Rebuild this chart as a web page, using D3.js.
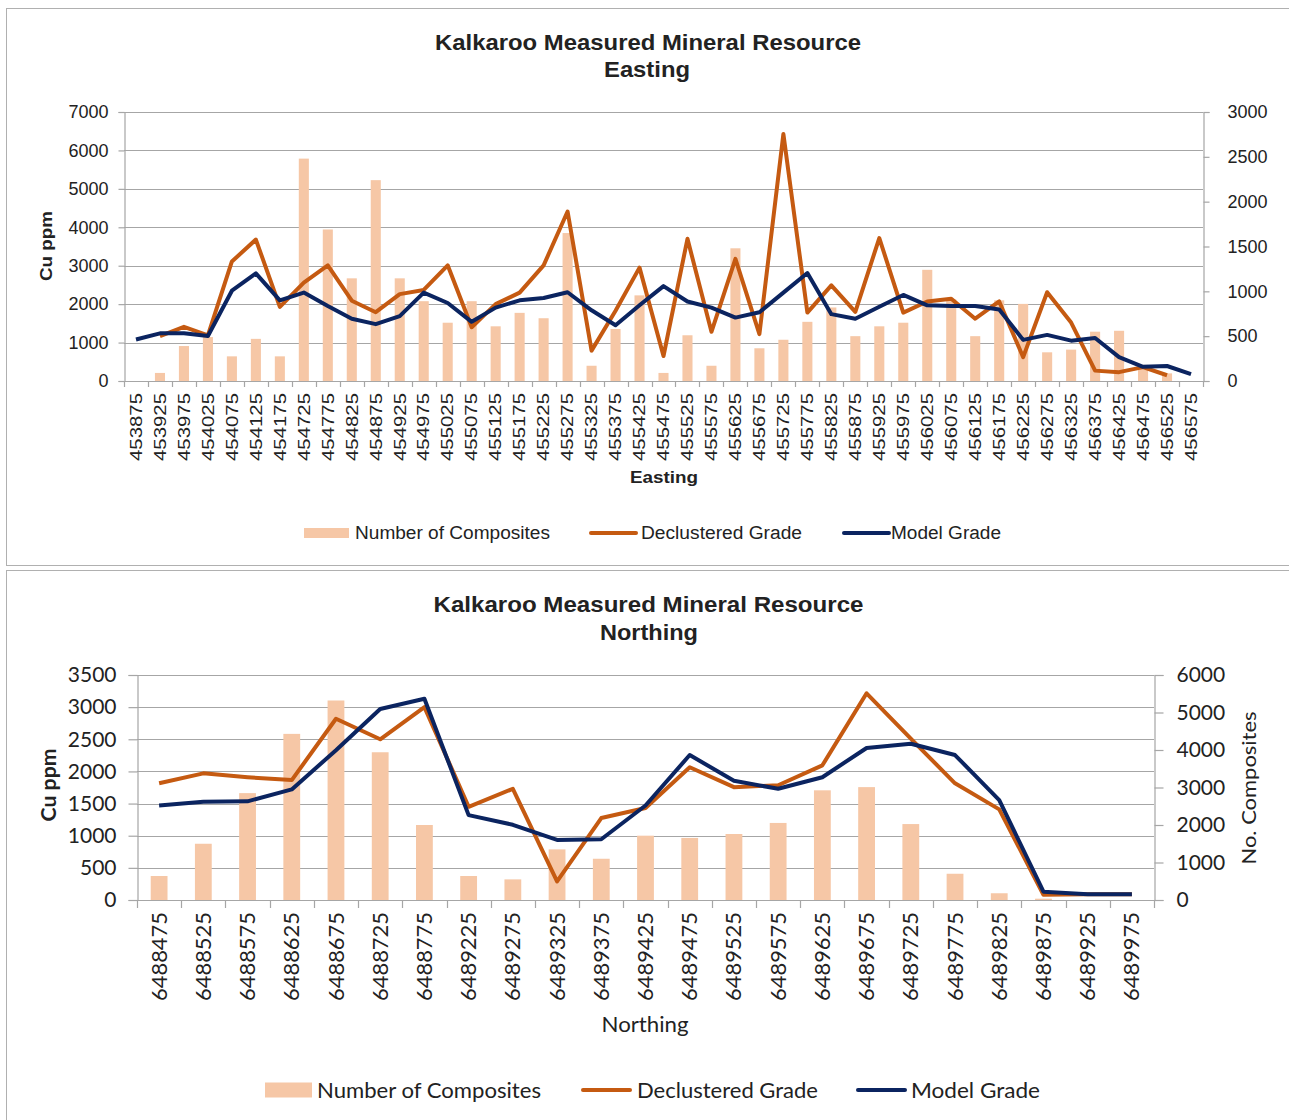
<!DOCTYPE html>
<html>
<head>
<meta charset="utf-8">
<script src="https://cdn.jsdelivr.net/npm/d3@7"></script>
<style>
  html, body { margin: 0; padding: 0; background: #fff; }
  svg { display: block; }
</style>
</head>
<body>
<svg id="chart" width="1289" height="1120"></svg>
<script>
// ---------- Data: Easting chart ----------
const eastingCategories = ["453875","453925","453975","454025","454075","454125","454175","454725","454775","454825","454875","454925","454975","455025","455075","455125","455175","455225","455275","455325","455375","455425","455475","455525","455575","455625","455675","455725","455775","455825","455875","455925","455975","456025","456075","456125","456175","456225","456275","456325","456375","456425","456475","456525","456575"];
const eastingComposites = [0,90,390,490,275,470,275,2480,1690,1145,2240,1145,890,650,890,610,760,700,1650,170,580,955,90,510,170,1480,365,460,660,820,500,610,650,1240,910,500,900,860,320,350,550,560,180,85,0];
const eastingDeclustered = [null,1170,1410,1190,3110,3680,1930,2560,3010,2090,1790,2260,2370,3010,1400,2000,2300,3010,4410,790,1830,2950,650,3700,1280,3180,1220,6430,1780,2490,1800,3720,1780,2070,2140,1620,2070,620,2310,1520,270,230,360,150,null];
const eastingModel = [1080,1240,1240,1170,2350,2800,2100,2300,1950,1620,1480,1690,2300,2030,1540,1910,2100,2160,2310,1840,1450,1970,2470,2070,1910,1650,1790,2300,2810,1740,1620,1930,2240,1970,1950,1950,1860,1070,1200,1050,1120,620,370,390,180];
const eastingLeftTicks = [0,1000,2000,3000,4000,5000,6000,7000];
const eastingRightTicks = [0,500,1000,1500,2000,2500,3000];

// ---------- Data: Northing chart ----------
const northingCategories = ["6488475","6488525","6488575","6488625","6488675","6488725","6488775","6489225","6489275","6489325","6489375","6489425","6489475","6489525","6489575","6489625","6489675","6489725","6489775","6489825","6489875","6489925","6489975"];
const northingComposites = [640,1500,2850,4430,5320,3940,2000,640,550,1350,1100,1715,1655,1760,2055,2925,3010,2025,700,180,35,0,0];
const northingDeclustered = [1815,1970,1910,1865,2820,2500,3000,1450,1730,290,1275,1430,2065,1755,1785,2095,3215,2510,1815,1410,80,88,88];
const northingModel = [1470,1530,1535,1720,2330,2970,3130,1320,1170,935,945,1470,2255,1855,1730,1910,2365,2430,2255,1555,130,90,90];
const northingLeftTicks = [0,500,1000,1500,2000,2500,3000,3500];
const northingRightTicks = [0,1000,2000,3000,4000,5000,6000];

const legendLabels = ["Number of Composites","Declustered Grade","Model Grade"];

const COLORS = { bar: "#F6C7A6", decl: "#C55A11", model: "#0B2460", grid: "#A6A6A6", text: "#222" };

const svg = d3.select("#chart");

// panel borders
svg.append("rect").attr("x",6.5).attr("y",8.5).attr("width",1295).attr("height",557)
  .attr("fill","none").attr("stroke","#B0B0B0");
svg.append("rect").attr("x",6.5).attr("y",570.5).attr("width",1295).attr("height",560)
  .attr("fill","none").attr("stroke","#B0B0B0");

function drawChart(cfg) {
  const g = svg.append("g");
  const x = d3.scaleBand().domain(cfg.categories).range([cfg.left, cfg.right]).paddingInner(0).paddingOuter(0);
  const yL = d3.scaleLinear().domain([0, cfg.leftMax]).range([cfg.bottom, cfg.top]);
  const yR = d3.scaleLinear().domain([0, cfg.rightMax]).range([cfg.bottom, cfg.top]);

  // gridlines
  g.append("g").selectAll("line").data(cfg.leftTicks.filter(d => d > 0)).join("line")
    .attr("x1", cfg.left).attr("x2", cfg.right)
    .attr("y1", d => Math.round(yL(d)) + 0.5).attr("y2", d => Math.round(yL(d)) + 0.5)
    .attr("stroke", COLORS.grid).attr("stroke-width", 1.2);

  // left axis
  const la = g.append("g").attr("transform", `translate(${cfg.left + 0.5},0)`)
    .call(d3.axisLeft(yL).tickValues(cfg.leftTicks).tickSize(cfg.tickLen).tickPadding(cfg.leftPad).tickFormat(d3.format("d")));
  la.select(".domain").attr("stroke", COLORS.grid).attr("stroke-width", 1.2);
  la.selectAll(".tick line").attr("stroke", COLORS.grid).attr("stroke-width", 1.2);
  la.selectAll(".tick text").attr("font-family", cfg.font).attr("font-size", cfg.tickFont).attr("fill", COLORS.text);

  // right axis
  const ra = g.append("g").attr("transform", `translate(${cfg.right + 0.5},0)`)
    .call(d3.axisRight(yR).tickValues(cfg.rightTicks).tickSize(cfg.tickLen).tickPadding(cfg.rightPad).tickFormat(d3.format("d")));
  ra.select(".domain").attr("stroke", COLORS.grid).attr("stroke-width", 1.2);
  ra.selectAll(".tick line").attr("stroke", COLORS.grid).attr("stroke-width", 1.2);
  ra.selectAll(".tick text").attr("font-family", cfg.font).attr("font-size", cfg.tickFont).attr("fill", COLORS.text);

  // bottom axis line + category boundary ticks
  g.append("line").attr("x1", cfg.left).attr("x2", cfg.right)
    .attr("y1", cfg.bottom + 0.5).attr("y2", cfg.bottom + 0.5).attr("stroke", COLORS.grid).attr("stroke-width", 1.2);
  const bounds = cfg.categories.map(c => x(c)).concat([cfg.right]);
  g.append("g").selectAll("line").data(bounds).join("line")
    .attr("x1", d => Math.round(d) + 0.5).attr("x2", d => Math.round(d) + 0.5)
    .attr("y1", cfg.bottom).attr("y2", cfg.bottom + cfg.xTickLen)
    .attr("stroke", COLORS.grid).attr("stroke-width", 1.2);

  // x tick labels (rotated)
  g.append("g").selectAll("text").data(cfg.categories).join("text")
    .attr("transform", d => `translate(${x(d) + x.bandwidth() / 2},${cfg.xLabelTop}) rotate(-90)`)
    .attr("text-anchor", "end").attr("dy", "0.36em")
    .attr("font-family", cfg.font).attr("font-size", cfg.xLabelFont).attr("fill", COLORS.text)
    .attr("textLength", cfg.xLabelLen).attr("lengthAdjust", "spacingAndGlyphs")
    .text(d => d);

  // bars
  const bw = x.bandwidth() * cfg.barFrac;
  g.append("g").selectAll("rect").data(cfg.composites.map((v, i) => ({ c: cfg.categories[i], v })).filter(d => d.v > 0)).join("rect")
    .attr("x", d => x(d.c) + (x.bandwidth() - bw) / 2)
    .attr("width", bw)
    .attr("y", d => yR(d.v)).attr("height", d => cfg.bottom - yR(d.v))
    .attr("fill", COLORS.bar);

  // lines
  const line = d3.line().defined(d => d.v != null)
    .x(d => x(d.c) + x.bandwidth() / 2).y(d => yL(d.v));
  g.append("path").datum(cfg.declustered.map((v, i) => ({ c: cfg.categories[i], v })))
    .attr("d", line).attr("fill", "none").attr("stroke", COLORS.decl).attr("stroke-width", cfg.lineW).attr("stroke-linejoin", "round");
  g.append("path").datum(cfg.model.map((v, i) => ({ c: cfg.categories[i], v })))
    .attr("d", line).attr("fill", "none").attr("stroke", COLORS.model).attr("stroke-width", cfg.lineW).attr("stroke-linejoin", "round");

  // titles
  cfg.titles.forEach(t => {
    const el = g.append("text").attr("x", t.x).attr("y", t.y).attr("text-anchor", "middle")
      .attr("font-family", t.font || cfg.font).attr("font-size", t.size).attr("font-weight", t.weight || "normal")
      .attr("fill", COLORS.text).text(t.text);
    if (t.len) el.attr("textLength", t.len).attr("lengthAdjust", "spacingAndGlyphs");
    if (t.rotate) el.attr("x", null).attr("y", null).attr("transform", `translate(${t.x},${t.y}) rotate(-90)`);
  });

  // legend
  const L = cfg.legend;
  g.append("rect").attr("x", L.sw[0]).attr("y", L.y - L.barH / 2).attr("width", L.swW).attr("height", L.barH).attr("fill", COLORS.bar);
  g.append("line").attr("x1", L.sw[1]).attr("x2", L.sw[1] + L.swW).attr("y1", L.y).attr("y2", L.y)
    .attr("stroke", COLORS.decl).attr("stroke-width", cfg.lineW).attr("stroke-linecap", "round");
  g.append("line").attr("x1", L.sw[2]).attr("x2", L.sw[2] + L.swW).attr("y1", L.y).attr("y2", L.y)
    .attr("stroke", COLORS.model).attr("stroke-width", cfg.lineW).attr("stroke-linecap", "round");
  legendLabels.forEach((lab, i) => {
    g.append("text").attr("x", L.tx[i]).attr("y", L.y).attr("dy", "0.36em")
      .attr("font-family", cfg.font).attr("font-size", L.font).attr("fill", COLORS.text)
      .attr("textLength", L.tl[i]).attr("lengthAdjust", "spacingAndGlyphs").text(lab);
  });
}

drawChart({
  categories: eastingCategories, composites: eastingComposites,
  declustered: eastingDeclustered, model: eastingModel,
  leftTicks: eastingLeftTicks, rightTicks: eastingRightTicks,
  leftMax: 7000, rightMax: 3000,
  left: 124, right: 1203, top: 112, bottom: 381,
  font: "'Liberation Sans', Arial, sans-serif", tickFont: 18,
  tickLen: 6, leftPad: 10, rightPad: 18, xTickLen: 6,
  xLabelTop: 393, xLabelFont: 16, xLabelLen: 68,
  barFrac: 0.42, lineW: 4,
  titles: [
    { text: "Kalkaroo Measured Mineral Resource", x: 648, y: 50, size: 22, weight: "bold", len: 426 },
    { text: "Easting", x: 647, y: 77, size: 22, weight: "bold", len: 86 },
    { text: "Easting", x: 664, y: 483, size: 17, weight: "bold", len: 68 },
    { text: "Cu ppm", x: 52, y: 246, size: 17, weight: "bold", rotate: true, len: 70 }
  ],
  legend: { y: 533, sw: [304, 591, 844], swW: 45, barH: 10, font: 18,
            tx: [355, 641, 891], tl: [195, 161, 110] }
});

drawChart({
  categories: northingCategories, composites: northingComposites,
  declustered: northingDeclustered, model: northingModel,
  leftTicks: northingLeftTicks, rightTicks: northingRightTicks,
  leftMax: 3500, rightMax: 6000,
  left: 137, right: 1154, top: 675, bottom: 900,
  font: "Lato, 'Open Sans', sans-serif", tickFont: 21,
  tickLen: 9, leftPad: 12, rightPad: 13, xTickLen: 8,
  xLabelTop: 912, xLabelFont: 21, xLabelLen: 89,
  barFrac: 0.38, lineW: 4,
  titles: [
    { text: "Kalkaroo Measured Mineral Resource", x: 648.5, y: 612, size: 22, weight: "bold", len: 430, font: "'Liberation Sans', Arial, sans-serif" },
    { text: "Northing", x: 649, y: 640, size: 22, weight: "bold", len: 98, font: "'Liberation Sans', Arial, sans-serif" },
    { text: "Northing", x: 645, y: 1032, size: 21, len: 87 },
    { text: "Cu ppm", x: 56, y: 785, size: 20, weight: "bold", rotate: true, len: 73 },
    { text: "No. Composites", x: 1256, y: 788, size: 20, rotate: true, len: 153 }
  ],
  legend: { y: 1090, sw: [265, 583, 858], swW: 47, barH: 15, font: 21,
            tx: [317, 637, 911], tl: [224, 181, 129] }
});
</script>
</body>
</html>
